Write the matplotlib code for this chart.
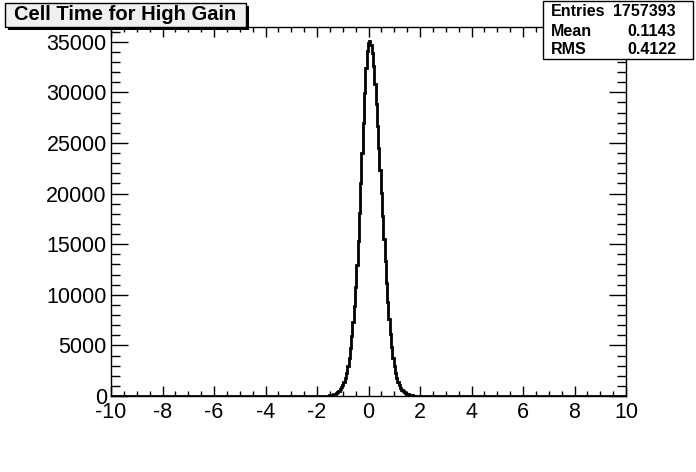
import numpy as np
import matplotlib
matplotlib.use("Agg")
import matplotlib.pyplot as plt
from matplotlib.patches import Rectangle
from matplotlib.ticker import MultipleLocator, FuncFormatter

plt.rcParams['font.family'] = ['Liberation Sans', 'DejaVu Sans']
plt.rcParams['axes.unicode_minus'] = False

# histogram (bin centres, width 0.05)
time_centres = np.round(np.arange(-1.60, 1.901, 0.05), 2)
counts = [20, 35, 55, 80, 115, 160, 220, 300, 400, 530,
          690, 880, 1120, 1420, 1800, 2300, 2950, 3750, 4700, 5900,
          7300, 8900, 10800, 12900, 15300, 18100, 21000, 24000, 27000, 29900,
          32400, 34100, 34900, 35100, 34700, 33900, 32600, 30800, 28800, 26700,
          24500, 22300, 20100, 17800, 15500, 13300, 11200, 9300, 7600, 6100,
          4800, 3800, 2950, 2300, 1800, 1400, 1080, 830, 640, 490,
          370, 280, 210, 160, 120, 85, 60, 40, 25, 15, 8]

title = "Cell Time for High Gain"
stats_names = ["Entries", "Mean", "RMS"]
stats_values = ["1757393", "0.1143", "0.4122"]

W, H = 696, 472
fig = plt.figure(figsize=(W / 100, H / 100), dpi=100)

def fx(px):
    return px / W

def fy(py):
    return 1 - py / H

left, right, top, bottom = 111, 626, 27, 396
ax = fig.add_axes([fx(left), fy(bottom), fx(right) - fx(left), fy(top) - fy(bottom)])

half = 0.025
edges = np.concatenate(([-10.0], time_centres - half, [time_centres[-1] + half, 10.0]))
values = np.concatenate(([0.0], counts, [0.0]))
ax.stairs(values, edges, color='black', lw=2, baseline=0)

ax.set_xlim(-10, 10)
ax.set_ylim(0, 36450)
ax.xaxis.set_major_locator(MultipleLocator(2))
ax.xaxis.set_minor_locator(MultipleLocator(0.5))
ax.yaxis.set_major_locator(MultipleLocator(5000))
ax.yaxis.set_minor_locator(MultipleLocator(1000))
ax.yaxis.set_major_formatter(FuncFormatter(lambda v, _: f"{v:.0f}"))
ax.xaxis.set_major_formatter(FuncFormatter(lambda v, _: f"{v:.0f}"))

ax.tick_params(axis='both', which='both', direction='in', top=True, right=True, width=1)
ax.tick_params(axis='x', which='major', length=7.2, labelsize=15.5, pad=4)
ax.tick_params(axis='x', which='minor', length=3.6)
ax.tick_params(axis='y', which='major', length=12, labelsize=15.5, pad=3)
ax.tick_params(axis='y', which='minor', length=6.5)
for s in ax.spines.values():
    s.set_linewidth(1)

# title box with shadow
tx0, ty0, tx1, ty1 = 5, 3, 246, 27
fig.patches.append(Rectangle((fx(tx0 + 3), fy(ty1 + 3)), fx(tx1 - tx0), fy(ty0) - fy(ty1),
                             transform=fig.transFigure, facecolor='black', edgecolor='none', zorder=5))
fig.patches.append(Rectangle((fx(tx0), fy(ty1)), fx(tx1 - tx0), fy(ty0) - fy(ty1),
                             transform=fig.transFigure, facecolor='#f0f0f0', edgecolor='black',
                             lw=1, zorder=6))
fig.text(fx((tx0 + tx1) / 2), fy((ty0 + ty1) / 2), title, ha='center', va='center',
         fontsize=14.5, fontweight='bold', zorder=7)

# stats box
sx0, sy0, sx1, sy1 = 543, 1, 693, 59
fig.patches.append(Rectangle((fx(sx0), fy(sy1)), fx(sx1 - sx0), fy(sy0) - fy(sy1),
                             transform=fig.transFigure, facecolor='white', edgecolor='black',
                             lw=1, zorder=6))
row_y = [11.5, 31, 50]
for name, val, ry in zip(stats_names, stats_values, row_y):
    fig.text(fx(551), fy(ry), name, ha='left', va='center', fontsize=11.5, fontweight='bold', zorder=7)
    fig.text(fx(676), fy(ry), val, ha='right', va='center', fontsize=11.5, fontweight='bold', zorder=7)

fig.savefig('out.png', dpi=100)
